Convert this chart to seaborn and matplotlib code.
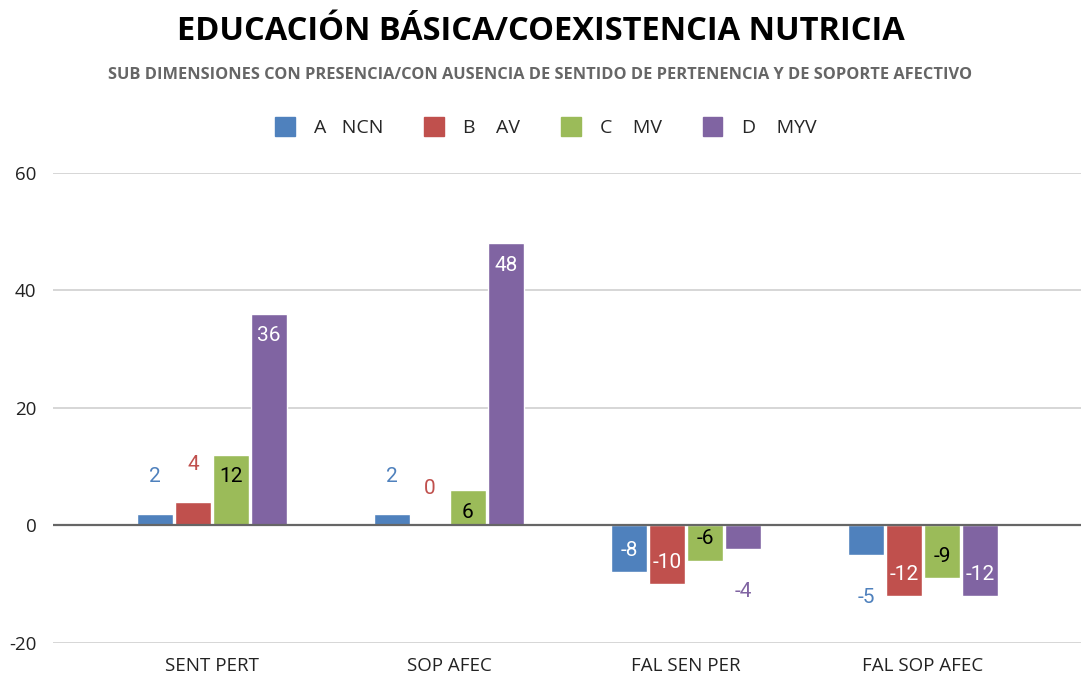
import matplotlib
matplotlib.use("Agg")
import matplotlib.pyplot as plt
import seaborn as sns
import pandas as pd
from matplotlib.patches import Patch

categorias = ["SENT PERT", "SOP AFEC", "FAL SEN PER", "FAL SOP AFEC"]
series = ["A   NCN", "B    AV", "C    MV", "D    MYV"]
valores_a = [2, 2, -8, -5]
valores_b = [4, 0, -10, -12]
valores_c = [12, 6, -6, -9]
valores_d = [36, 48, -4, -12]
colores = ["#4F81BD", "#C0504D", "#9BBB59", "#8064A2"]
texto_dentro = ["white", "white", "black", "white"]
texto_fuera = ["#4F81BD", "#C0504D", "black", "#8064A2"]

titulo = "EDUCACIÓN BÁSICA/COEXISTENCIA NUTRICIA"
subtitulo = "SUB DIMENSIONES CON PRESENCIA/CON AUSENCIA DE SENTIDO DE PERTENENCIA Y DE SOPORTE AFECTIVO"

FUENTE = ["Open Sans", "DejaVu Sans"]


def main():
    tabla = []
    for s, vals in zip(series, [valores_a, valores_b, valores_c, valores_d]):
        for c, v in zip(categorias, vals):
            tabla.append({"cat": c, "serie": s, "valor": v})
    df = pd.DataFrame(tabla)

    sns.set_style("white")
    plt.rcParams["axes.unicode_minus"] = False
    fig = plt.figure(figsize=(10.81, 6.78), dpi=100)
    ax = fig.add_axes([0.049, 0.0516, 0.951, 0.6934])

    sns.barplot(data=df, x="cat", y="valor", hue="serie", palette=colores,
                width=0.64, gap=0.04, legend=False, ax=ax, saturation=1)

    ax.set_ylim(-20, 60)
    ax.set_xlim(-0.671, 3.667)
    ax.set_yticks([-20, 0, 20, 40, 60])
    ax.yaxis.grid(True, color="#D0D0D0", linewidth=1.2)
    ax.set_axisbelow(True)
    ax.axhline(0, color="#666666", linewidth=1.6, zorder=1)
    for sp in ax.spines.values():
        sp.set_visible(False)
    ax.set_xlabel("")
    ax.set_ylabel("")
    ax.tick_params(axis="both", length=0, labelsize=13.5)
    ax.tick_params(axis="y", pad=12)
    ax.tick_params(axis="x", pad=10)
    for lab in ax.get_xticklabels() + ax.get_yticklabels():
        lab.set_family(FUENTE)
        lab.set_color("#222222")

    # etiquetas de datos
    todos = [valores_a, valores_b, valores_c, valores_d]
    for i, cont in enumerate(ax.containers):
        for j, barra in enumerate(cont):
            v = todos[i][j]
            xc = barra.get_x() + barra.get_width() / 2
            if abs(v) >= 6:
                dy = -22 if v >= 0 else 22
                col = texto_dentro[i]
            else:
                dy = 37 if v >= 0 else -43
                col = texto_fuera[i]
            ax.annotate(str(v), (xc, v), xytext=(0, dy * 0.72),
                        textcoords="offset points", ha="center", va="center",
                        fontsize=15, color=col, family=["Roboto", "DejaVu Sans"])

    fig.text(0.5, 0.953, titulo, ha="center", va="center", fontsize=23.5,
             fontweight="bold", family=FUENTE, color="black")
    fig.text(0.5, 0.889, subtitulo, ha="center", va="center", fontsize=11.8,
             fontweight="bold", family=FUENTE, color="#666666")

    handles = [Patch(facecolor=c, edgecolor=c) for c in colores]
    fig.legend(handles, series, loc="center", bbox_to_anchor=(0.505, 0.813),
               ncol=4, frameon=False, handlelength=1.0, handleheight=1.2,
               handletextpad=1.0, columnspacing=2.1,
               prop={"family": FUENTE, "size": 14})

    fig.savefig("out.png", dpi=100)


if __name__ == "__main__":
    main()
